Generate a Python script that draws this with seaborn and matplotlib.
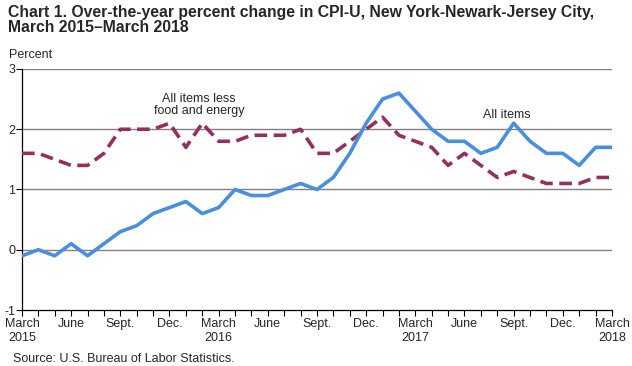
import numpy as np
import pandas as pd
import matplotlib
matplotlib.use("Agg")
import matplotlib.pyplot as plt
import seaborn as sns

# Monthly data, March 2015 - March 2018
months = pd.date_range("2015-03-01", "2018-03-01", freq="MS")
all_items = [-0.1, 0.0, -0.1, 0.1, -0.1, 0.1, 0.3, 0.4, 0.6, 0.7,
             0.8, 0.6, 0.7, 1.0, 0.9, 0.9, 1.0, 1.1, 1.0, 1.2,
             1.6, 2.1, 2.5, 2.6, 2.3, 2.0, 1.8, 1.8, 1.6, 1.7,
             2.1, 1.8, 1.6, 1.6, 1.4, 1.7, 1.7]
core = [1.6, 1.6, 1.5, 1.4, 1.4, 1.6, 2.0, 2.0, 2.0, 2.1,
        1.7, 2.1, 1.8, 1.8, 1.9, 1.9, 1.9, 2.0, 1.6, 1.6,
        1.8, 2.0, 2.2, 1.9, 1.8, 1.7, 1.4, 1.6, 1.4, 1.2,
        1.3, 1.2, 1.1, 1.1, 1.1, 1.2, 1.2]
tick_labels = ["March\n2015", "June", "Sept.", "Dec.",
               "March\n2016", "June", "Sept.", "Dec.",
               "March\n2017", "June", "Sept.", "Dec.",
               "March\n2018"]
y_ticks = [-1, 0, 1, 2, 3]

df = pd.DataFrame({"idx": np.arange(len(months)),
                   "all_items": all_items, "core": core})

sns.set_style("white")
plt.rcParams["font.family"] = ["Liberation Sans", "DejaVu Sans"]

fig = plt.figure(figsize=(6.32, 3.66), dpi=100)
ax = fig.add_axes([0.0348, 0.153, 0.9335, 0.6585])

for y in y_ticks[1:]:
    ax.axhline(y, color="#808080", lw=1.0, zorder=1)

sns.lineplot(data=df, x="idx", y="core", ax=ax, color="#93305f",
             lw=2.6, zorder=3)
ax.lines[-1].set_dashes((3.5, 1.8))
sns.lineplot(data=df, x="idx", y="all_items", ax=ax, color="#4a8fdc",
             lw=2.6, zorder=4)

ax.set_xlim(0, len(months) - 1)
ax.set_ylim(-1, 3)
ax.set_xticks(np.arange(len(months)), minor=True)
ax.set_xticks(np.arange(0, len(months), 3))
ax.set_xticklabels(tick_labels, fontsize=9.0, linespacing=1.2)
ax.set_yticks(y_ticks)
ax.set_yticklabels([str(v) for v in y_ticks], fontsize=9.0)
ax.tick_params(axis="x", which="both", direction="out", length=4,
               width=0.8, color="black", pad=2, bottom=True)
ax.tick_params(axis="y", direction="out", length=4, width=0.8,
               color="black", pad=1, left=True)
ax.set_xlabel("")
ax.set_ylabel("")

for side in ["top", "right"]:
    ax.spines[side].set_visible(False)
for side in ["left", "bottom"]:
    ax.spines[side].set_color("black")
    ax.spines[side].set_linewidth(0.9)

ax.text(10.8, 2.2, "All items less\nfood and energy", ha="center",
        va="bottom", fontsize=9.0, linespacing=1.05)
ax.text(29.6, 2.13, "All items", ha="center", va="bottom", fontsize=9.0)

fig.text(0.013, 0.985, "Chart 1. Over-the-year percent change in CPI-U, "
         "New York-Newark-Jersey City,\nMarch 2015\u2013March 2018",
         ha="left", va="top", fontsize=11.3, fontweight="bold",
         linespacing=1.0)
fig.text(0.015, 0.85, "Percent", ha="left", va="center", fontsize=9.0)
fig.text(0.02, 0.019, "Source: U.S. Bureau of Labor Statistics.",
         ha="left", va="center", fontsize=9.0)

fig.savefig("out.png", dpi=100)
